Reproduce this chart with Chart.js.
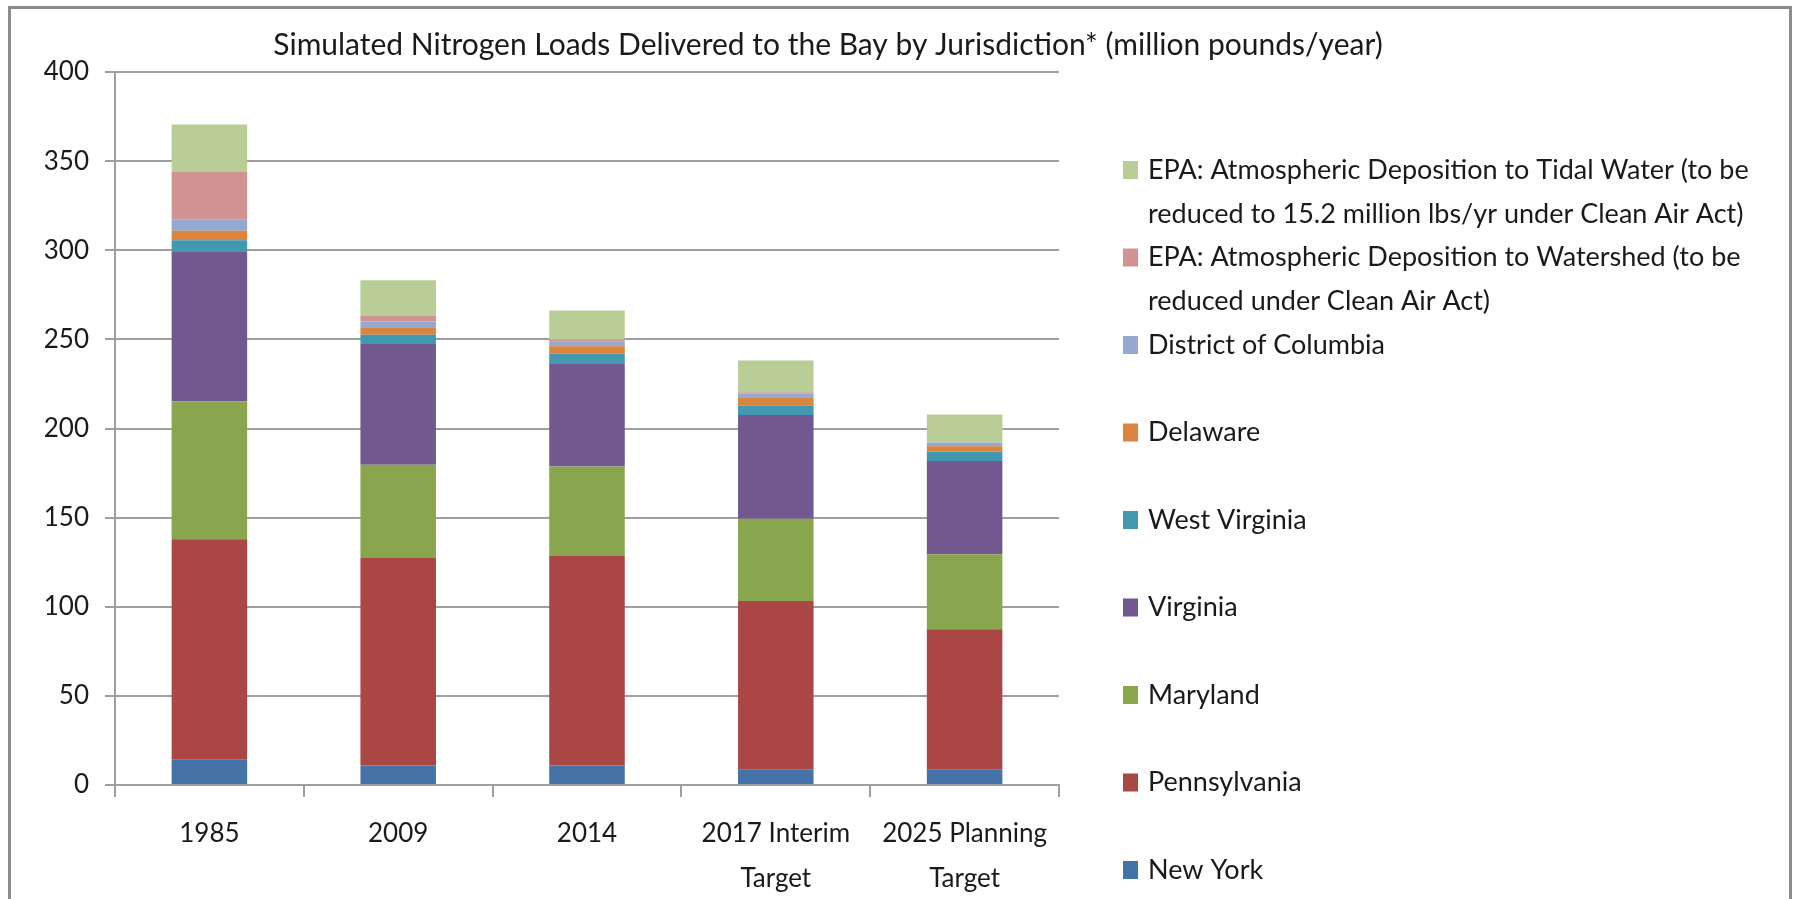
<!DOCTYPE html>
<html>
<head>
<meta charset="utf-8">
<title>Simulated Nitrogen Loads</title>
<script src="https://cdn.jsdelivr.net/npm/chart.js@4.4.1/dist/chart.umd.min.js"></script>
<style>
  html, body { margin: 0; padding: 0; background: #fff; }
  #frame { position: absolute; left: 8px; top: 6px; width: 1784px; height: 900px;
           border: 3px solid #8c8c8c; border-bottom: none; box-sizing: border-box; }
  #wrap { position: absolute; left: 0; top: 0; width: 1795px; height: 899px; }
</style>
</head>
<body>
<div id="frame"></div>
<div id="wrap"><canvas id="chart"></canvas></div>
<script>
// --- DONNEES ---
const chartTitle = 'Simulated Nitrogen Loads Delivered to the Bay by Jurisdiction* (million pounds/year)';
const categories = ['1985', '2009', '2014', ['2017 Interim', 'Target'], ['2025 Planning', 'Target']];
const yTicks = [0, 50, 100, 150, 200, 250, 300, 350, 400];

const newYork      = [14.2, 11.0, 11.0, 8.5, 8.5];
const pennsylvania = [123.7, 116.4, 117.5, 94.7, 78.9];
const maryland     = [77.4, 52.2, 50.2, 46.2, 42.1];
const virginia     = [84.1, 67.8, 57.9, 58.2, 52.3];
const westVirginia = [6.2, 5.2, 5.3, 5.2, 5.2];
const delaware     = [5.3, 4.2, 4.3, 4.3, 3.1];
const districtCol  = [6.2, 3.2, 2.7, 2.6, 2.1];
const atmWatershed = [27.1, 3.1, 0.9, 0.7, 0.0];
const atmTidal     = [26.3, 20.0, 16.4, 17.7, 15.6];

// libellés de légende (retours à la ligne comme sur l'original)
const legendLines = [
    ['New York'],
    ['Pennsylvania'],
    ['Maryland'],
    ['Virginia'],
    ['West Virginia'],
    ['Delaware'],
    ['District of Columbia'],
    ['EPA: Atmospheric Deposition to Watershed (to be', 'reduced under Clean Air Act)'],
    ['EPA: Atmospheric Deposition to Tidal Water (to be', 'reduced to 15.2 million lbs/yr under Clean Air Act)']
];
const seriesValues = [newYork, pennsylvania, maryland, virginia, westVirginia, delaware, districtCol, atmWatershed, atmTidal];
const seriesColors = ['#4572A7', '#AA4643', '#89A54E', '#71588F', '#4198AF', '#DB843D', '#93A9CF', '#D19392', '#B9CD96'];

const FONT = 'Lato, "Open Sans", sans-serif';
const TEXT = '#1a1a1a';
const GRID = '#9f9f9f';

Chart.defaults.font.family = FONT;
Chart.defaults.color = TEXT;

// --- TITRE ---
const titlePlugin = {
    id: 'excelTitle',
    afterDraw(chart) {
        const ctx = chart.ctx;
        ctx.save();
        ctx.font = '30px ' + FONT;
        ctx.fillStyle = TEXT;
        ctx.textAlign = 'center';
        ctx.textBaseline = 'alphabetic';
        ctx.fillText(chartTitle, 828, 55);
        ctx.restore();
    }
};

// --- LEGENDE (ordre inverse, à droite) ---
const legendPlugin = {
    id: 'excelLegend',
    afterDraw(chart) {
        const ctx = chart.ctx;
        const sets = chart.data.datasets.slice().reverse();
        ctx.save();
        ctx.font = '27px ' + FONT;
        ctx.textAlign = 'left';
        ctx.textBaseline = 'middle';
        sets.forEach((ds, i) => {
            const y = 170 + i * 87.5;
            ctx.fillStyle = ds.backgroundColor;
            ctx.fillRect(1123, y - 9, 15, 18);
            ctx.fillStyle = TEXT;
            ds.legendLines.forEach((line, j) => ctx.fillText(line, 1148, y + j * 44));
        });
        ctx.restore();
    }
};

const datasets = seriesValues.map((vals, i) => ({
    label: legendLines[i].join(' '),
    legendLines: legendLines[i],
    data: vals,
    backgroundColor: seriesColors[i],
    borderWidth: 0,
    categoryPercentage: 1.0,
    barPercentage: 0.4
}));

new Chart(document.getElementById('chart'), {
    type: 'bar',
    data: { labels: categories, datasets },
    options: {
        responsive: true,
        maintainAspectRatio: false,
        animation: false,
        layout: { padding: { left: 0, right: 736, top: 72, bottom: 0 } },
        plugins: { legend: { display: false }, title: { display: false }, tooltip: { enabled: false } },
        scales: {
            x: {
                stacked: true,
                grid: { drawOnChartArea: false, drawTicks: true, tickLength: 12, color: GRID, lineWidth: 2, offset: true },
                border: { color: GRID, width: 2 },
                ticks: { font: { size: 26, lineHeight: 1.73 }, padding: 14, color: TEXT, maxRotation: 0 },
                afterFit(s) { s.height = 114; }
            },
            y: {
                stacked: true,
                min: 0,
                max: 400,
                afterBuildTicks(s) { s.ticks = yTicks.map(v => ({ value: v })); },
                grid: { color: GRID, lineWidth: 2, tickLength: 10 },
                border: { color: GRID, width: 2 },
                ticks: { font: { size: 26 }, padding: 16, color: TEXT },
                afterFit(s) { s.width = 115; }
            }
        }
    },
    plugins: [titlePlugin, legendPlugin]
});
</script>
</body>
</html>
